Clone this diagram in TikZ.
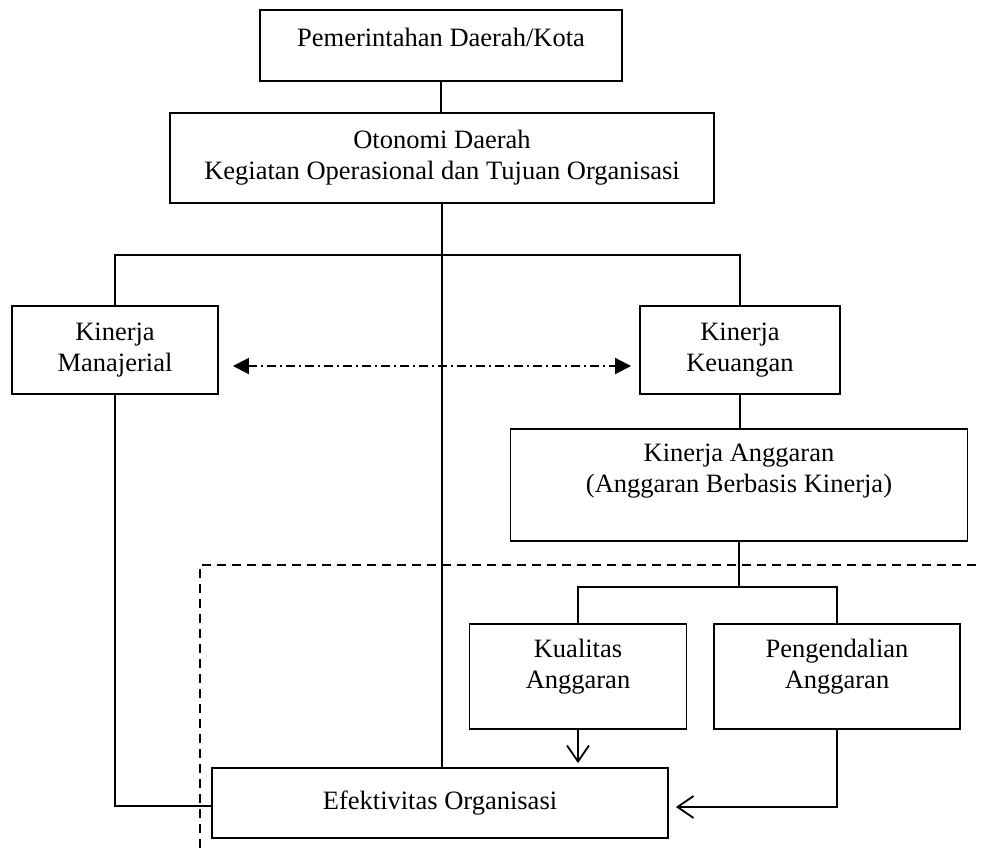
\documentclass[tikz,border=0pt]{standalone}
\usepackage{fontspec}
\setmainfont{Liberation Serif}
\usetikzlibrary{arrows.meta,calc,positioning}

\begin{document}
\begin{tikzpicture}[x=1pt,y=-1pt,line width=1.9pt,
      font=\fontsize{26.5}{31}\selectfont,
      unit/.style={draw,align=center,inner sep=0pt},
      link/.style={line width=1.9pt},
      feed/.style={-{Straight Barb[length=16pt,width=22pt,line width=1.8pt]},
                   shorten >=4pt},
      mutual/.style={{Triangle[length=16pt,width=16pt]}-{Triangle[length=16pt,width=16pt]},
                     dash pattern=on 9pt off 4pt on 2pt off 4pt},
      scopeline/.style={dash pattern=on 9pt off 6pt}]
    \fill[white] (0,0) rectangle (982,848);
    \useasboundingbox (0,0) rectangle (982,848);
    \node[unit,minimum width=362pt,minimum height=71pt,text depth=17pt]
      (pemda) at (441,45.5) {Pemerintahan Daerah/Kota};
    \node[unit,minimum width=544pt,minimum height=90pt]
      (otonomi) at (442,158) {Otonomi Daerah\\Kegiatan Operasional dan Tujuan Organisasi};
    \node[unit,minimum width=206pt,minimum height=88pt]
      (manaj) at (115,350) {Kinerja\\Manajerial};
    \node[unit,minimum width=200pt,minimum height=88pt]
      (keuang) at (740,350) {Kinerja\\Keuangan};
    \node[unit,minimum width=457pt,minimum height=112pt,text depth=33pt]
      (anggar) at (739,485) {Kinerja Anggaran\\(Anggaran Berbasis Kinerja)};
    \node[unit,minimum width=217pt,minimum height=105pt,text depth=26pt]
      (kualit) at (578,676.5) {Kualitas\\Anggaran};
    \node[unit,minimum width=246pt,minimum height=105pt,text depth=26pt]
      (kendali) at (837,676.5) {Pengendalian\\Anggaran};
    \node[unit,minimum width=456pt,minimum height=70pt]
      (efektif) at (440,803) {Efektivitas Organisasi};
    % connectors
    \draw[link] (pemda.south) -- (pemda.south |- otonomi.north);
    \draw[link] (otonomi.south) -- (otonomi.south |- efektif.north);
    \draw[link] (manaj.north) -- ++(0,-50) -| (keuang.north);
    \draw[mutual,shorten <=14pt,shorten >=8pt]
      ([yshift=-16pt]manaj.east) -- ([yshift=-16pt]keuang.west);
    \draw[link] (keuang.south) -- (keuang.south |- anggar.north);
    \draw[link] (anggar.south) -- ++(0,45) coordinate (fork);
    \draw[link] (kualit.north) |- (fork) -| (kendali.north);
    \draw[feed] (kualit.south) -- (kualit.south |- efektif.north);
    \draw[feed,shorten >=7pt] (kendali.south) |- ([yshift=-4pt]efektif.east);
    \draw[link] (manaj.south) |- ([yshift=-3pt]efektif.west);
    % scope of the study
    \draw[scopeline] (200,848) -- (200,565) -- (982,565);
  \end{tikzpicture}
\end{document}
